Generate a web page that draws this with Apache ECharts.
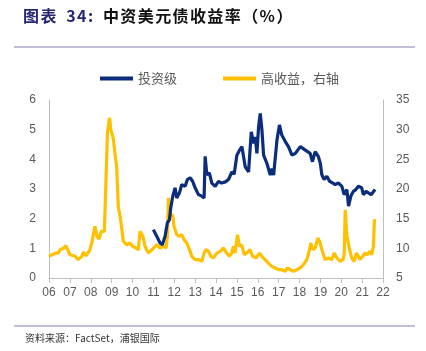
<!DOCTYPE html>
<html><head><meta charset="utf-8">
<script src="https://cdn.jsdelivr.net/npm/echarts@6/dist/echarts.min.js"></script>
<style>html,body{margin:0;padding:0;background:#fff}#c{width:426px;height:351px}</style>
</head><body><div id="c"></div>
<script>
// X-axis tick labels (years 2006..2022)
const yearTicks = [2006,2007,2008,2009,2010,2011,2012,2013,2014,2015,2016,2017,2018,2019,2020,2021,2022];
const tickLabels = ['06','07','08','09','10','11','12','13','14','15','16','17','18','19','20','21','22'];

// 投资级 (investment grade), left axis, % — [year, value]
const igDates = [2011.0,2011.16,2011.32,2011.43,2011.56,2011.67,2011.77,2011.83,2011.93,2012.04,2012.12,2012.25,2012.36,2012.52,2012.63,2012.76,2012.88,2013.0,2013.16,2013.32,2013.43,2013.48,2013.56,2013.68,2013.8,2013.96,2014.12,2014.27,2014.45,2014.6,2014.76,2014.87,2015.0,2015.12,2015.24,2015.4,2015.56,2015.69,2015.8,2015.88,2015.96,2016.04,2016.12,2016.2,2016.28,2016.44,2016.6,2016.68,2016.76,2016.92,2017.04,2017.15,2017.32,2017.47,2017.64,2017.8,2018.04,2018.28,2018.51,2018.62,2018.75,2018.9,2019.0,2019.07,2019.18,2019.31,2019.44,2019.6,2019.71,2019.87,2020.03,2020.14,2020.27,2020.35,2020.46,2020.58,2020.7,2020.82,2020.98,2021.06,2021.19,2021.3,2021.43,2021.51,2021.62];
const igValues = [1.63,1.41,1.18,1.12,1.41,1.86,1.97,2.36,2.76,3.04,2.70,2.87,3.15,3.09,3.32,3.38,3.26,3.04,2.81,2.76,2.70,4.10,3.48,3.54,3.20,3.09,3.26,3.20,3.24,3.32,3.58,3.50,4.14,4.30,4.43,3.75,3.58,4.93,4.54,4.76,4.20,5.10,5.55,4.99,4.14,3.86,3.47,3.69,3.47,4.65,5.16,4.82,4.60,4.43,4.14,4.20,4.43,4.31,4.20,3.92,4.26,4.10,3.86,3.48,3.32,3.43,3.26,3.20,3.15,3.20,3.09,2.81,2.98,2.42,2.76,2.92,2.98,3.09,3.04,2.81,2.92,2.87,2.81,2.87,2.98];

// 高收益 (high yield), right axis, % — [year, value]
const hyDates = [2006.0,2006.3,2006.45,2006.53,2006.7,2006.8,2006.93,2007.0,2007.25,2007.4,2007.57,2007.65,2007.77,2007.95,2008.05,2008.2,2008.3,2008.4,2008.5,2008.65,2008.73,2008.8,2008.9,2008.96,2009.08,2009.16,2009.24,2009.32,2009.43,2009.56,2009.72,2009.88,2010.0,2010.17,2010.28,2010.36,2010.5,2010.6,2010.76,2010.92,2011.0,2011.16,2011.32,2011.48,2011.61,2011.67,2011.72,2011.8,2011.93,2011.99,2012.12,2012.25,2012.36,2012.47,2012.6,2012.73,2012.84,2013.0,2013.16,2013.32,2013.43,2013.52,2013.64,2013.75,2013.88,2014.04,2014.2,2014.35,2014.51,2014.64,2014.75,2014.83,2014.91,2015.03,2015.12,2015.23,2015.35,2015.47,2015.63,2015.76,2015.92,2016.08,2016.19,2016.35,2016.51,2016.67,2016.83,2016.99,2017.15,2017.31,2017.42,2017.55,2017.71,2017.87,2018.03,2018.19,2018.35,2018.48,2018.54,2018.64,2018.75,2018.88,2018.99,2019.12,2019.23,2019.39,2019.55,2019.66,2019.79,2019.95,2020.08,2020.14,2020.19,2020.27,2020.4,2020.5,2020.61,2020.74,2020.82,2020.9,2021.03,2021.14,2021.25,2021.38,2021.46,2021.54,2021.59,2021.62];
const hyValues = [8.65,9.2,9.2,9.75,10.0,10.45,9.5,8.95,8.65,8.1,8.65,9.35,8.75,9.65,10.9,13.7,12.0,11.55,12.85,12.85,21.5,29.5,32.0,30.0,28.5,26.0,23.8,17.0,14.85,11.2,10.6,10.9,10.35,10.05,9.75,12.85,12.0,10.35,9.2,9.75,9.78,10.6,10.06,10.35,10.06,12.03,18.5,16.0,15.4,13.7,12.3,12.03,12.3,11.5,10.9,9.78,8.66,8.1,8.1,7.8,9.2,9.78,9.5,8.66,8.38,9.2,9.5,10.06,9.2,8.66,9.2,10.35,9.2,12.3,10.35,10.6,8.94,9.2,9.78,8.66,8.38,9.2,8.66,8.1,7.5,6.97,6.69,6.4,6.4,6.13,6.69,6.4,6.13,6.4,6.69,7.25,8.1,9.78,10.9,9.78,10.06,11.75,10.9,9.2,8.1,8.38,8.1,9.2,8.38,7.8,8.1,8.94,16.5,12.03,9.78,8.38,7.8,9.2,9.5,8.1,8.66,9.2,8.94,9.5,8.94,10.35,14.85,14.6];

const seriesNames = ['投资级', '高收益，右轴'];
const colors = ['#0B2D7C', '#FFC000'];
const titleHead = '图表 34:';
const titleBody = '中资美元债收益率（%）';
const sourceText = '资料来源：FactSet，浦银国际';

const igData = igDates.map((d, i) => [d, igValues[i]]);
const hyData = hyDates.map((d, i) => [d, hyValues[i]]);
const labelMap = {};
yearTicks.forEach((y, i) => labelMap[y] = tickLabels[i]);

function spaced(str, key) {
  return Array.from(str).map(ch => ch === ' ' ? '{s| }' : '{' + key + '|' + ch + '}').join('');
}
const titleRich = spaced(titleHead, 'a') + '{s| }' + spaced(titleBody, 'b');

const chart = echarts.init(document.getElementById('c'), null, {renderer: 'canvas'});
const axisFont = {color: '#595959', fontSize: 12, fontFamily: 'Liberation Sans, Arial, sans-serif'};
chart.setOption({
  animation: false,
  backgroundColor: '#fff',
  grid: {left: 49, right: 43, top: 100, bottom: 73, containLabel: false},
  legend: {
    data: seriesNames.map(n => ({name: n, icon: 'rect'})),
    left: 95, top: 67, itemWidth: 33, itemHeight: 4, itemGap: 46,
    textStyle: {color: '#595959', fontSize: 13, fontFamily: 'Noto Sans CJK SC'}
  },
  xAxis: {
    type: 'value', min: 2006, max: 2022, interval: 1,
    axisLine: {show: true, lineStyle: {color: '#BFBFBF'}},
    axisTick: {show: true, length: 5, lineStyle: {color: '#BFBFBF'}},
    axisLabel: Object.assign({margin: 9, formatter: v => labelMap[v] || ''}, axisFont),
    splitLine: {show: false}
  },
  yAxis: [
    {type: 'value', min: 0, max: 6, interval: 1, position: 'left',
     axisLine: {show: true, lineStyle: {color: '#BFBFBF'}}, axisTick: {show: false},
     axisLabel: Object.assign({margin: 13}, axisFont), splitLine: {show: false}},
    {type: 'value', min: 5, max: 35, interval: 5, position: 'right',
     axisLine: {show: true, lineStyle: {color: '#BFBFBF'}}, axisTick: {show: false},
     axisLabel: Object.assign({margin: 13}, axisFont), splitLine: {show: false}}
  ],
  series: [
    {name: seriesNames[0], type: 'line', yAxisIndex: 0, data: igData, showSymbol: false, symbol: 'none',
     lineStyle: {width: 3.2, color: colors[0]}, itemStyle: {color: colors[0]}, z: 3},
    {name: seriesNames[1], type: 'line', yAxisIndex: 1, data: hyData, showSymbol: false, symbol: 'none',
     lineStyle: {width: 3.2, color: colors[1]}, itemStyle: {color: colors[1]}, z: 2}
  ],
  graphic: [
    {type: 'text', left: 23, top: 8, style: {
      text: titleRich,
      rich: {
        a: {fill: '#262673', fontSize: 16, fontWeight: 'bold', fontFamily: 'Noto Sans CJK SC', padding: [0, 0.7]},
        b: {fill: '#111', fontSize: 16, fontWeight: 'bold', fontFamily: 'Noto Sans CJK SC', padding: [0, 0.7]},
        s: {fontSize: 16, padding: [0, 2]}
      }}},
    {type: 'line', shape: {x1: 14, y1: 47, x2: 415, y2: 47}, style: {stroke: '#ABA8CC', lineWidth: 1.5}},
    {type: 'line', shape: {x1: 14, y1: 326, x2: 415, y2: 326}, style: {stroke: '#ABA8CC', lineWidth: 1.5}},
    {type: 'text', left: 25, top: 333, style: {text: sourceText, fill: '#333', fontSize: 10, fontFamily: 'Noto Sans CJK SC'}}
  ]
});
</script></body></html>
